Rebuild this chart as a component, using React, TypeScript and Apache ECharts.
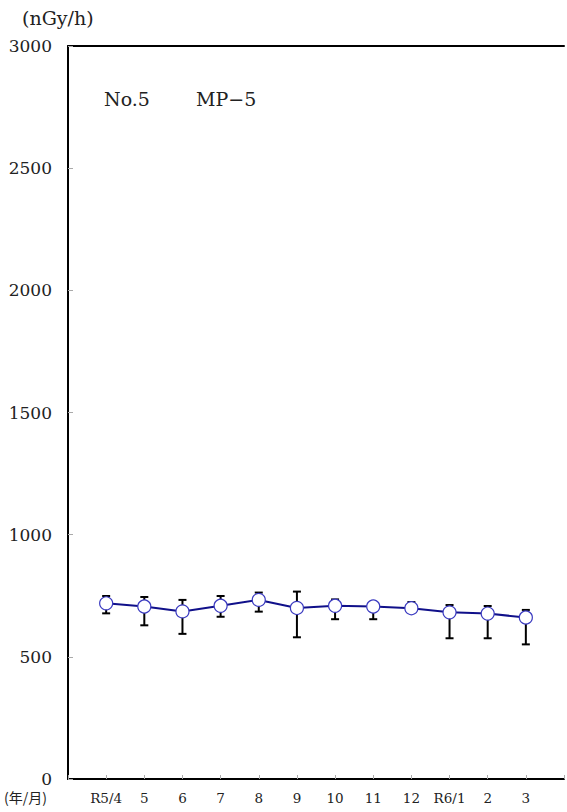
import React, { useEffect, useRef } from "react";
import * as echarts from "echarts";

// Monthly air dose rate at monitoring post MP-5 (mean with min/max range)
const months = ["R5/4", "5", "6", "7", "8", "9", "10", "11", "12", "R6/1", "2", "3"];
const meanValues = [719, 706, 686, 709, 733, 700, 709, 706, 699, 682, 677, 661];
const maxValues = [749, 745, 733, 749, 763, 767, 735, 714, 724, 712, 708, 692];
const minValues = [678, 629, 594, 664, 685, 580, 654, 654, 690, 576, 576, 551];
const yTicks = [0, 500, 1000, 1500, 2000, 2500, 3000];

const serif = "DejaVu Serif";

export default function App() {
  const ref = useRef<HTMLDivElement>(null);

  useEffect(() => {
    if (!ref.current) return;
    const chart = echarts.init(ref.current, undefined, { renderer: "svg" });

    // pad an empty slot on each side so the months sit one step inside the frame
    const categories = ["", ...months, ""];
    const lineData = [null, ...meanValues, null];
    const rangeData = months.map((_, i) => [i + 1, minValues[i], maxValues[i]]);

    chart.setOption({
      animation: false,
      backgroundColor: "#fff",
      grid: { left: 68, top: 46, right: 0, bottom: 33 },
      xAxis: [
        {
          type: "category",
          data: categories,
          boundaryGap: false,
          axisLine: { lineStyle: { color: "#000", width: 2 } },
          axisTick: {
            inside: true,
            length: 4,
            alignWithLabel: true,
            lineStyle: { color: "#aaa" },
          },
          axisLabel: {
            interval: 0,
            margin: 12,
            color: "#222",
            fontFamily: serif,
            fontSize: 13.5,
          },
          splitLine: { show: false },
        },
        {
          // top edge of the frame
          type: "category",
          data: categories,
          position: "top",
          boundaryGap: false,
          axisLine: { lineStyle: { color: "#000", width: 2 } },
          axisTick: { show: false },
          axisLabel: { show: false },
        },
      ],
      yAxis: {
        type: "value",
        min: yTicks[0],
        max: yTicks[yTicks.length - 1],
        interval: 500,
        axisLine: { show: true, lineStyle: { color: "#000", width: 2 } },
        axisTick: { show: true, inside: true, length: 5, lineStyle: { color: "#aaa" } },
        axisLabel: {
          margin: 16,
          color: "#222",
          fontFamily: serif,
          fontSize: 17,
          formatter: (v: number) => String(v),
        },
        splitLine: { show: false },
      },
      graphic: [
        {
          type: "text",
          left: 22,
          top: 8,
          style: { text: "(nGy/h)", fontSize: 19, fontFamily: serif, fill: "#222" },
        },
        {
          type: "text",
          left: 4,
          top: 790,
          style: { text: "(年/月)", fontSize: 14, fontFamily: "Noto Sans CJK JP", fill: "#222" },
        },
        {
          type: "text",
          left: 104,
          top: 89,
          style: { text: "No.5", fontSize: 19, fontFamily: serif, fill: "#222" },
        },
        {
          type: "text",
          left: 196,
          top: 89,
          style: { text: "MP\u22125", fontSize: 19, fontFamily: serif, fill: "#222" },
        },
      ],
      series: [
        {
          type: "custom",
          name: "range",
          data: rangeData,
          z: 2,
          renderItem: (params: any, api: any) => {
            const x = api.value(0);
            const lo = api.coord([x, api.value(1)]);
            const hi = api.coord([x, api.value(2)]);
            const cap = 4;
            const style = { stroke: "#000", lineWidth: 2 };
            return {
              type: "group",
              children: [
                { type: "line", shape: { x1: lo[0], y1: lo[1], x2: hi[0], y2: hi[1] }, style },
                { type: "line", shape: { x1: hi[0] - cap, y1: hi[1], x2: hi[0] + cap, y2: hi[1] }, style },
                { type: "line", shape: { x1: lo[0] - cap, y1: lo[1], x2: lo[0] + cap, y2: lo[1] }, style },
              ],
            };
          },
        },
        {
          type: "line",
          name: "mean",
          data: lineData,
          z: 3,
          symbol: "circle",
          symbolSize: 13,
          lineStyle: { color: "#10108a", width: 2 },
          itemStyle: { color: "#fff", borderColor: "#3a3ac0", borderWidth: 1.2 },
        },
      ],
    });

    return () => chart.dispose();
  }, []);

  return (
    <div
      ref={ref}
      style={{ position: "absolute", left: 0, top: 0, width: 567, height: 812 }}
    />
  );
}
